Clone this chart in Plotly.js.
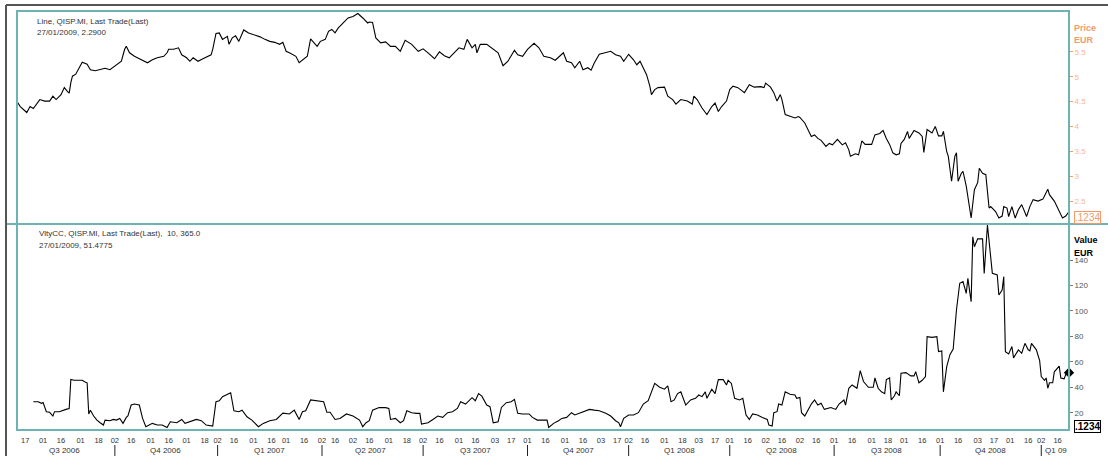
<!DOCTYPE html>
<html>
<head>
<meta charset="utf-8">
<script src="https://cdn.plot.ly/plotly-3.0.1.min.js"></script>
<style>
html,body{margin:0;padding:0;background:#fff;}
#chart{width:1108px;height:456px;}
</style>
</head>
<body>
<div id="chart"></div>
<script>
// ---------------- DATA ----------------
const priceDates = ['2006-07-10','2006-07-12','2006-07-18','2006-07-20','2006-07-24','2006-07-28','2006-08-02','2006-08-07','2006-08-09','2006-08-11','2006-08-16','2006-08-18','2006-08-22','2006-08-23','2006-08-24','2006-08-25','2006-08-29','2006-08-31','2006-09-04','2006-09-07','2006-09-11','2006-09-14','2006-09-19','2006-09-22','2006-09-27','2006-10-02','2006-10-04','2006-10-06','2006-10-10','2006-10-11','2006-10-13','2006-10-18','2006-10-23','2006-10-26','2006-10-30','2006-11-02','2006-11-07','2006-11-13','2006-11-15','2006-11-16','2006-11-21','2006-11-24','2006-11-28','2006-12-01','2006-12-05','2006-12-07','2006-12-12','2006-12-15','2006-12-20','2006-12-22','2006-12-27','2006-12-29','2007-01-03','2007-01-05','2007-01-10','2007-01-11','2007-01-15','2007-01-17','2007-01-19','2007-01-24','2007-01-29','2007-02-01','2007-02-07','2007-02-12','2007-02-15','2007-02-20','2007-02-23','2007-02-27','2007-03-01','2007-03-05','2007-03-07','2007-03-09','2007-03-13','2007-03-15','2007-03-20','2007-03-22','2007-03-26','2007-03-28','2007-03-30','2007-04-04','2007-04-10','2007-04-12','2007-04-16','2007-04-18','2007-04-23','2007-04-26','2007-05-02','2007-05-07','2007-05-10','2007-05-15','2007-05-16','2007-05-18','2007-05-22','2007-05-25','2007-05-30','2007-06-04','2007-06-07','2007-06-12','2007-06-15','2007-06-21','2007-06-27','2007-07-02','2007-07-05','2007-07-11','2007-07-16','2007-07-19','2007-07-24','2007-07-27','2007-08-01','2007-08-06','2007-08-08','2007-08-13','2007-08-16','2007-08-17','2007-08-21','2007-08-27','2007-08-31','2007-09-05','2007-09-10','2007-09-13','2007-09-19','2007-09-21','2007-09-26','2007-10-01','2007-10-05','2007-10-10','2007-10-15','2007-10-19','2007-10-24','2007-10-29','2007-10-31','2007-11-02','2007-11-07','2007-11-09','2007-11-14','2007-11-16','2007-11-21','2007-11-23','2007-11-27','2007-11-30','2007-12-05','2007-12-11','2007-12-14','2007-12-19','2007-12-21','2008-01-02','2008-01-07','2008-01-09','2008-01-11','2008-01-15','2008-01-17','2008-01-21','2008-01-22','2008-01-24','2008-01-28','2008-02-01','2008-02-05','2008-02-08','2008-02-12','2008-02-15','2008-02-21','2008-02-26','2008-02-27','2008-02-29','2008-03-05','2008-03-10','2008-03-13','2008-03-17','2008-03-19','2008-03-25','2008-03-28','2008-04-01','2008-04-03','2008-04-08','2008-04-14','2008-04-17','2008-04-22','2008-04-28','2008-04-30','2008-05-02','2008-05-07','2008-05-09','2008-05-13','2008-05-15','2008-05-16','2008-05-20','2008-05-23','2008-05-28','2008-05-30','2008-06-02','2008-06-05','2008-06-09','2008-06-11','2008-06-13','2008-06-17','2008-06-19','2008-06-24','2008-06-26','2008-06-30','2008-07-03','2008-07-08','2008-07-10','2008-07-14','2008-07-15','2008-07-18','2008-07-22','2008-07-24','2008-07-28','2008-08-01','2008-08-05','2008-08-08','2008-08-12','2008-08-14','2008-08-19','2008-08-21','2008-08-25','2008-08-27','2008-08-28','2008-09-01','2008-09-03','2008-09-04','2008-09-09','2008-09-12','2008-09-16','2008-09-17','2008-09-19','2008-09-24','2008-09-26','2008-09-30','2008-10-02','2008-10-03','2008-10-07','2008-10-08','2008-10-10','2008-10-14','2008-10-15','2008-10-16','2008-10-20','2008-10-21','2008-10-23','2008-10-28','2008-10-30','2008-11-03','2008-11-04','2008-11-06','2008-11-10','2008-11-12','2008-11-13','2008-11-18','2008-11-20','2008-11-24','2008-11-25','2008-11-27','2008-11-28','2008-12-02','2008-12-04','2008-12-08','2008-12-10','2008-12-15','2008-12-17','2008-12-19','2008-12-29','2009-01-05','2009-01-08','2009-01-09','2009-01-14','2009-01-16','2009-01-21','2009-01-23','2009-01-27'];
const priceValues = [4.50,4.40,4.28,4.40,4.36,4.54,4.51,4.51,4.61,4.54,4.64,4.78,4.70,4.67,4.88,5.01,5.05,5.18,5.29,5.25,5.14,5.12,5.14,5.17,5.14,5.21,5.25,5.31,5.55,5.61,5.48,5.41,5.36,5.31,5.28,5.34,5.38,5.41,5.48,5.55,5.55,5.58,5.44,5.38,5.31,5.38,5.31,5.36,5.40,5.44,5.55,5.87,5.88,5.75,5.81,5.65,5.78,5.82,5.71,5.94,5.88,5.85,5.80,5.75,5.71,5.69,5.65,5.69,5.51,5.48,5.44,5.41,5.28,5.34,5.41,5.76,5.68,5.61,5.71,5.75,5.91,5.95,5.88,5.98,6.08,6.18,6.21,6.27,6.18,6.08,6.10,6.09,5.78,5.68,5.70,5.61,5.61,5.51,5.73,5.65,5.51,5.56,5.48,5.36,5.50,5.42,5.38,5.48,5.58,5.55,5.75,5.58,5.65,5.48,5.65,5.65,5.55,5.48,5.22,5.31,5.53,5.44,5.41,5.55,5.67,5.58,5.41,5.38,5.33,5.41,5.48,5.31,5.28,5.18,5.31,5.14,5.18,5.13,5.28,5.45,5.48,5.51,5.44,5.41,5.31,5.45,5.34,5.24,5.31,5.18,5.04,4.81,4.64,4.74,4.78,4.79,4.61,4.54,4.45,4.54,4.51,4.45,4.61,4.54,4.37,4.24,4.40,4.47,4.30,4.40,4.51,4.74,4.81,4.78,4.68,4.84,4.79,4.80,4.78,4.87,4.79,4.68,4.51,4.64,4.54,4.24,4.20,4.17,4.20,4.18,4.07,3.92,3.80,3.83,3.76,3.72,3.60,3.66,3.63,3.74,3.63,3.67,3.53,3.40,3.45,3.43,3.71,3.64,3.64,3.83,3.86,3.92,3.76,3.64,3.47,3.43,3.45,3.66,3.74,3.90,3.76,3.92,3.87,3.80,3.48,3.94,3.87,4.00,3.81,3.81,3.90,3.50,3.40,2.90,3.40,3.47,2.90,3.06,3.10,2.80,2.16,2.73,2.87,3.16,3.06,3.03,2.36,2.39,2.29,2.16,2.20,2.39,2.36,2.19,2.39,2.16,2.33,2.43,2.19,2.39,2.53,2.50,2.54,2.74,2.63,2.50,2.36,2.16,2.20,2.29];

const vltyDates = ['2006-07-24','2006-07-27','2006-07-31','2006-08-01','2006-08-03','2006-08-07','2006-08-09','2006-08-10','2006-08-15','2006-08-17','2006-08-21','2006-08-23','2006-08-24','2006-08-28','2006-09-04','2006-09-06','2006-09-07','2006-09-08','2006-09-11','2006-09-13','2006-09-15','2006-09-19','2006-09-21','2006-09-22','2006-09-27','2006-09-29','2006-10-03','2006-10-05','2006-10-09','2006-10-11','2006-10-12','2006-10-16','2006-10-18','2006-10-23','2006-10-25','2006-10-27','2006-11-02','2006-11-07','2006-11-10','2006-11-15','2006-11-17','2006-11-23','2006-11-28','2006-11-30','2006-12-06','2006-12-11','2006-12-14','2006-12-19','2006-12-27','2006-12-29','2007-01-03','2007-01-05','2007-01-12','2007-01-16','2007-01-19','2007-01-23','2007-01-26','2007-01-31','2007-02-06','2007-02-09','2007-02-15','2007-02-21','2007-02-27','2007-03-05','2007-03-08','2007-03-13','2007-03-15','2007-03-19','2007-03-22','2007-03-27','2007-03-30','2007-04-03','2007-04-05','2007-04-11','2007-04-16','2007-04-19','2007-04-25','2007-05-02','2007-05-08','2007-05-10','2007-05-14','2007-05-16','2007-05-18','2007-05-24','2007-05-30','2007-06-01','2007-06-04','2007-06-07','2007-06-12','2007-06-14','2007-06-18','2007-06-21','2007-06-26','2007-06-28','2007-06-29','2007-07-05','2007-07-10','2007-07-13','2007-07-18','2007-07-23','2007-07-26','2007-07-31','2007-08-02','2007-08-07','2007-08-13','2007-08-16','2007-08-20','2007-08-22','2007-08-27','2007-08-29','2007-08-31','2007-09-05','2007-09-07','2007-09-12','2007-09-17','2007-09-19','2007-09-21','2007-09-26','2007-10-02','2007-10-04','2007-10-09','2007-10-12','2007-10-17','2007-10-18','2007-10-23','2007-10-26','2007-10-30','2007-11-02','2007-11-07','2007-11-09','2007-11-14','2007-11-19','2007-11-22','2007-11-27','2007-11-30','2007-12-06','2007-12-11','2007-12-14','2007-12-18','2007-12-19','2007-12-21','2008-01-02','2008-01-07','2008-01-10','2008-01-15','2008-01-18','2008-01-23','2008-01-24','2008-01-29','2008-02-01','2008-02-05','2008-02-07','2008-02-11','2008-02-13','2008-02-15','2008-02-20','2008-02-25','2008-02-28','2008-03-03','2008-03-05','2008-03-07','2008-03-10','2008-03-13','2008-03-17','2008-03-19','2008-03-26','2008-03-28','2008-03-31','2008-04-02','2008-04-04','2008-04-09','2008-04-11','2008-04-15','2008-04-17','2008-04-21','2008-04-24','2008-04-29','2008-05-05','2008-05-06','2008-05-08','2008-05-09','2008-05-13','2008-05-14','2008-05-16','2008-05-20','2008-05-23','2008-05-28','2008-05-29','2008-06-02','2008-06-03','2008-06-05','2008-06-09','2008-06-11','2008-06-13','2008-06-17','2008-06-19','2008-06-23','2008-06-27','2008-07-02','2008-07-04','2008-07-09','2008-07-10','2008-07-14','2008-07-16','2008-07-21','2008-07-23','2008-07-25','2008-07-30','2008-08-04','2008-08-05','2008-08-07','2008-08-11','2008-08-13','2008-08-14','2008-08-19','2008-08-20','2008-08-22','2008-08-25','2008-08-27','2008-08-28','2008-09-02','2008-09-05','2008-09-09','2008-09-10','2008-09-12','2008-09-16','2008-09-18','2008-09-19','2008-09-24','2008-09-29','2008-09-30','2008-10-02','2008-10-03','2008-10-07','2008-10-09','2008-10-13','2008-10-14','2008-10-15','2008-10-17','2008-10-21','2008-10-23','2008-10-24','2008-10-28','2008-10-29','2008-10-30','2008-11-03','2008-11-06','2008-11-07','2008-11-11','2008-11-13','2008-11-14','2008-11-19','2008-11-20','2008-11-24','2008-11-25','2008-11-26','2008-11-28','2008-12-02','2008-12-03','2008-12-08','2008-12-10','2008-12-12','2008-12-16','2008-12-17','2008-12-18','2008-12-23','2008-12-30','2009-01-02','2009-01-06','2009-01-07','2009-01-08','2009-01-09','2009-01-13','2009-01-14','2009-01-16','2009-01-19','2009-01-20','2009-01-22','2009-01-26','2009-01-27'];
const vltyValues = [28.6,28.6,27.4,28.0,20.8,20.3,17.4,20.8,20.8,22.0,22.6,23.3,46.2,45.5,45.5,44.0,43.5,19.0,22.0,17.4,14.2,12.1,10.3,14.2,13.7,14.7,14.2,15.5,11.6,16.3,17.4,26.0,26.8,26.0,15.5,9.0,11.6,10.3,10.3,8.4,12.9,12.1,14.7,11.6,13.7,14.7,13.7,10.3,9.5,28.6,29.4,32.6,35.7,21.5,20.8,22.0,16.8,14.2,9.0,11.6,13.7,14.7,19.6,19.0,22.0,14.7,20.8,21.5,30.0,29.4,28.6,28.6,20.3,20.3,14.7,15.5,19.0,17.4,14.2,9.0,12.1,13.7,22.0,24.0,24.0,23.3,14.7,15.5,12.1,13.7,21.5,20.0,19.5,19.5,11.1,12.1,14.7,17.4,16.3,20.0,20.8,23.4,28.6,26.8,31.8,29.4,35.0,33.0,26.0,24.7,12.1,12.9,24.1,27.9,28.6,30.5,19.5,19.0,19.0,16.3,14.2,14.2,14.2,8.4,11.6,13.7,15.5,16.3,20.0,18.2,19.5,20.8,22.6,22.0,21.5,19.5,17.4,13.7,12.1,9.0,15.5,18.2,18.2,20.0,26.8,29.4,40.0,43.0,40.0,38.5,41.0,28.6,30.0,35.0,36.4,26.0,30.0,31.3,33.9,32.6,36.4,31.3,38.5,35.0,46.0,46.0,41.8,45.5,43.0,31.3,30.0,31.3,18.2,14.7,19.0,18.2,16.3,14.7,10.3,9.5,20.0,20.8,26.8,26.0,36.4,34.5,33.9,31.3,32.0,20.0,17.4,22.0,26.8,30.0,26.0,27.4,22.6,24.1,22.6,26.8,30.0,26.0,39.2,41.8,39.2,53.1,44.5,40.0,40.0,47.3,39.2,36.4,35.0,46.0,47.3,30.0,33.3,36.4,33.3,51.0,51.5,48.9,48.9,52.3,43.5,45.5,48.4,79.7,79.2,79.7,68.0,68.6,36.4,56.0,65.6,70.0,85.0,100.7,121.7,123.0,113.8,125.6,107.2,158.3,150.4,156.6,156.6,129.5,167.5,140.0,129.5,128.2,112.5,116.4,126.9,68.0,66.2,72.0,63.1,69.4,66.7,74.5,69.4,68.6,74.5,69.4,61.0,48.4,45.5,47.3,39.2,43.5,43.5,52.1,54.8,56.6,47.3,46.6,53.6,51.4775];

// market holidays (no trading)
const holidays = ['2006-12-25','2006-12-26','2007-01-01','2007-04-06','2007-04-09','2007-05-01','2007-08-15','2007-12-24','2007-12-25','2007-12-26','2007-12-31','2008-01-01','2008-03-21','2008-03-24','2008-05-01','2008-08-15','2008-12-24','2008-12-25','2008-12-26','2008-12-31','2009-01-01'];

const tickDates = ['2006-07-17','2006-08-01','2006-08-16','2006-09-01','2006-09-18','2006-10-02','2006-10-16','2006-11-01','2006-11-16','2006-12-01','2006-12-18','2007-01-02','2007-01-16','2007-02-01','2007-02-16','2007-03-01','2007-03-16','2007-04-02','2007-04-16','2007-05-02','2007-05-16','2007-06-01','2007-06-18','2007-07-02','2007-07-16','2007-08-01','2007-08-16','2007-09-03','2007-09-17','2007-10-01','2007-10-16','2007-11-01','2007-11-16','2007-12-03','2007-12-17','2008-01-02','2008-01-16','2008-02-01','2008-02-18','2008-03-03','2008-03-17','2008-04-01','2008-04-16','2008-05-02','2008-05-16','2008-06-02','2008-06-16','2008-07-01','2008-07-16','2008-08-01','2008-08-18','2008-09-01','2008-09-16','2008-10-01','2008-10-16','2008-11-03','2008-11-17','2008-12-01','2008-12-16','2009-01-02','2009-01-16'];
const tickLabels = ['17','01','16','01','18','02','16','01','16','01','18','02','16','01','16','01','16','02','16','02','16','01','18','02','16','01','16','03','17','01','16','01','16','03','17','02','16','01','18','03','17','01','16','02','16','02','16','01','16','01','18','01','16','01','16','03','17','01','16','02','16'];

const quarterStarts = ['2006-10-02','2007-01-02','2007-04-02','2007-07-02','2007-10-01','2008-01-02','2008-04-01','2008-07-01','2008-10-01','2009-01-02'];
const quarterLabels = ['Q3 2006','Q4 2006','Q1 2007','Q2 2007','Q3 2007','Q4 2007','Q1 2008','Q2 2008','Q3 2008','Q4 2008','Q1 09'];
const quarterMid = ['2006-08-18','2006-11-14','2007-02-15','2007-05-17','2007-08-16','2007-11-13','2008-02-14','2008-05-16','2008-08-14','2008-11-13','2009-01-02'];

const priceTicks = [2.5,3,3.5,4,4.5,5,5.5];
const vltyTicks = [20,40,60,80,100,120,140];

const header1 = ['Line, QISP.MI, Last Trade(Last)','27/01/2009, 2.2900'];
const header2 = ['VltyCC, QISP.MI, Last Trade(Last),  10, 365.0','27/01/2009, 51.4775'];

// ---------------- STYLE ----------------
const TEAL = '#6db3b3';
const ORANGE = '#f49a68';
const ORANGE_LT = '#f8b694';
const FONT = 'Liberation Sans, Arial, sans-serif';
const W = 1108, H = 456;
const M = {l:17, r:39, t:11, b:26};
const PW = W - M.l - M.r, PH = H - M.t - M.b;
const px = x => (x - M.l) / PW;          // page px -> paper x
const py = y => (H - M.b - y) / PH;      // page px -> paper y
const SPLIT = py(224);

const traces = [
  {x: priceDates, y: priceValues, xaxis:'x', yaxis:'y', type:'scatter', mode:'lines',
   line:{color:'#000', width:1.1}, hoverinfo:'skip'},
  {x: vltyDates, y: vltyValues, xaxis:'x', yaxis:'y2', type:'scatter', mode:'lines',
   line:{color:'#000', width:1.1}, hoverinfo:'skip'},
  {x: [vltyDates[vltyDates.length-1]], y: [vltyValues[vltyValues.length-1]], xaxis:'x', yaxis:'y2',
   type:'scatter', mode:'markers', marker:{symbol:'diamond', size:8, color:'#000'}, cliponaxis:false, hoverinfo:'skip'}
];

const shapes = [
  {type:'rect', xref:'paper', yref:'paper', x0:0, x1:1, y0:0, y1:1, line:{color:TEAL, width:2}},
  {type:'line', xref:'paper', yref:'paper', x0:px(7), x1:px(1108), y0:SPLIT, y1:SPLIT, line:{color:TEAL, width:2}},
  {type:'line', xref:'paper', yref:'paper', x0:px(6), x1:px(1108), y0:py(5), y1:py(5), line:{color:'#555', width:2}},
  {type:'line', xref:'paper', yref:'paper', x0:px(6), x1:px(6), y0:py(5), y1:py(457), line:{color:'#555', width:2}}
];
quarterStarts.forEach(d => shapes.push({type:'line', xref:'x', yref:'paper', x0:d, x1:d, y0:py(445), y1:py(456), line:{color:'#222', width:1}}));

const annotations = [];
const txt = (text, x, y, opts) => Object.assign({text, xref:'paper', yref:'paper', x:px(x), y:py(y), xanchor:'left', yanchor:'middle', showarrow:false, font:{family:FONT, size:8, color:'#333'}}, opts||{});
annotations.push(txt(header1[0], 35, 21));
annotations.push(txt(header1[1], 35, 32.5));
annotations.push(txt(header2[0], 37, 233.5));
annotations.push(txt(header2[1], 37, 245));
annotations.push(txt('<b>Price</b>', 1072, 28, {font:{family:FONT, size:9, color:ORANGE}}));
annotations.push(txt('<b>EUR</b>', 1072, 39.5, {font:{family:FONT, size:9, color:ORANGE}}));
annotations.push(txt('<b>Value</b>', 1072, 240, {font:{family:FONT, size:9, color:'#000'}}));
annotations.push(txt('<b>EUR</b>', 1072, 253, {font:{family:FONT, size:9, color:'#000'}}));
annotations.push(txt('.1234', 1074, 217.5, {font:{family:FONT, size:10, color:ORANGE}, bordercolor:ORANGE, borderwidth:1, borderpad:0}));
annotations.push(txt('<b>.1234</b>', 1074, 426, {font:{family:FONT, size:10, color:'#000'}, bordercolor:'#000', borderwidth:1, borderpad:0}));
quarterLabels.forEach((q, i) => annotations.push({text:q, xref:'x', yref:'paper', x:quarterMid[i], y:py(450),
  xanchor: i === quarterLabels.length-1 ? 'left' : 'center', yanchor:'middle', showarrow:false,
  xshift: i === quarterLabels.length-1 ? 2 : 0,
  font:{family:FONT, size:8, color:'#333'}}));

const layout = {
  width: W, height: H, margin: M, paper_bgcolor:'#fff', plot_bgcolor:'#fff', showlegend:false,
  font:{family:FONT, size:8, color:'#333'},
  xaxis: {type:'date', anchor:'y2', range:[priceDates[0], priceDates[priceDates.length-1]],
    rangebreaks:[{bounds:['sat','mon']}, {values: holidays}],
    tickmode:'array', tickvals: tickDates, ticktext: tickLabels, tickangle:0,
    ticks:'', ticklabelstandoff:4, showgrid:false, zeroline:false, showline:false,
    tickfont:{family:FONT, size:7.5, color:'#333'}},
  yaxis: {domain:[SPLIT, 1], range:[2.04, 6.32], side:'right', anchor:'x',
    tickmode:'array', tickvals: priceTicks, ticks:'outside', ticklen:3, tickwidth:1, tickcolor:ORANGE,
    tickfont:{family:FONT, size:8, color:ORANGE_LT}, showgrid:false, zeroline:false, showline:false},
  yaxis2: {domain:[0, SPLIT], range:[6.4, 168.3], side:'right', anchor:'x',
    tickmode:'array', tickvals: vltyTicks, ticks:'outside', ticklen:3, tickwidth:1, tickcolor:'#777',
    tickfont:{family:FONT, size:8, color:'#555'}, showgrid:false, zeroline:false, showline:false},
  shapes, annotations
};

Plotly.newPlot('chart', traces, layout, {staticPlot:true, displayModeBar:false});
</script>
</body>
</html>
